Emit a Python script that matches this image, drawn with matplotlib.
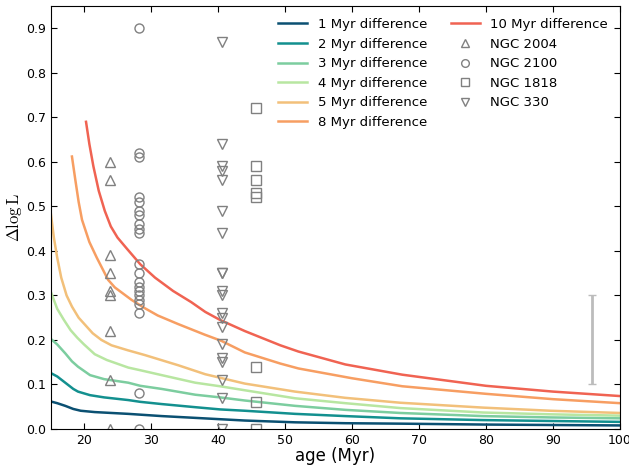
import matplotlib
matplotlib.use("Agg")
import matplotlib.pyplot as plt

# ---- curves: Delta log L vs age for different age differences ----
x_1 = [15, 16, 17.2, 18.4, 19.5, 21.6, 26.6, 31.6, 36.6, 40.3, 44, 51.5, 59, 67.2, 79.6, 89.6, 100]
y_1 = [0.062, 0.058, 0.052, 0.045, 0.041, 0.038, 0.034, 0.029, 0.025, 0.022, 0.019, 0.015, 0.013, 0.012, 0.010, 0.009, 0.008]

x_2 = [15, 16, 17.2, 18.4, 19.1, 20.9, 23, 26.6, 28.4, 31.6, 36.6, 40.3, 44, 51.5, 59, 67.2, 79.6, 89.6, 100]
y_2 = [0.126, 0.118, 0.104, 0.090, 0.084, 0.076, 0.071, 0.065, 0.061, 0.056, 0.049, 0.044, 0.041, 0.034, 0.029, 0.024, 0.020, 0.018, 0.016]

x_3 = [15, 16, 17.2, 18.2, 19.1, 20.9, 23, 26.6, 28.4, 31.6, 36.6, 40.3, 44, 51.5, 59, 67.2, 79.6, 89.6, 100]
y_3 = [0.203, 0.190, 0.170, 0.152, 0.140, 0.121, 0.112, 0.104, 0.097, 0.090, 0.077, 0.071, 0.064, 0.052, 0.043, 0.036, 0.029, 0.026, 0.024]

x_4 = [15, 16, 17, 18, 19, 20, 21.6, 23.4, 26.6, 28.4, 31.6, 36.6, 40.3, 44, 51.5, 59, 67.2, 79.6, 89.6, 100]
y_4 = [0.310, 0.270, 0.245, 0.222, 0.205, 0.190, 0.168, 0.155, 0.138, 0.132, 0.121, 0.104, 0.096, 0.087, 0.069, 0.058, 0.047, 0.037, 0.033, 0.030]

x_5 = [15, 15.5, 16, 16.6, 17.4, 18.2, 19.2, 20.1, 21.3, 22.6, 24.1, 26.5, 29.1, 34.1, 38.1, 44, 51.5, 59, 67.2, 79.6, 89.6, 100]
y_5 = [0.490, 0.430, 0.385, 0.340, 0.300, 0.275, 0.250, 0.235, 0.215, 0.200, 0.188, 0.177, 0.166, 0.143, 0.123, 0.102, 0.084, 0.070, 0.059, 0.048, 0.041, 0.036]

x_8 = [18.2, 18.7, 19.2, 19.7, 20.8, 21.9, 23.6, 24.6, 27.1, 29, 31, 34, 38, 40.5, 44, 49.3, 52, 60, 67.5, 80, 90, 100]
y_8 = [0.612, 0.560, 0.510, 0.470, 0.420, 0.385, 0.335, 0.318, 0.290, 0.272, 0.255, 0.236, 0.212, 0.198, 0.172, 0.147, 0.136, 0.114, 0.096, 0.079, 0.067, 0.058]

x_10 = [20.3, 20.8, 21.4, 22.2, 23.1, 24, 25, 26.4, 28.4, 30.6, 33.3, 36, 38.1, 40.3, 44, 49.3, 52, 59, 67.5, 80, 90, 100]
y_10 = [0.690, 0.640, 0.590, 0.535, 0.490, 0.455, 0.430, 0.405, 0.370, 0.340, 0.310, 0.285, 0.263, 0.245, 0.220, 0.188, 0.174, 0.145, 0.122, 0.097, 0.084, 0.074]

curve_labels = ["1 Myr difference", "2 Myr difference", "3 Myr difference", "4 Myr difference",
                "5 Myr difference", "8 Myr difference", "10 Myr difference"]
curve_colors = ["#0b5072", "#13908f", "#7ccd9f", "#b8e6a1", "#f2c07a", "#f79e62", "#f06352"]

# ---- cluster data ----
age_2004 = 23.9
dl_2004 = [0.60, 0.56, 0.39, 0.35, 0.31, 0.30, 0.22, 0.11, 0.0]
age_2100 = 28.2
dl_2100 = [0.90, 0.62, 0.61, 0.52, 0.51, 0.49, 0.48, 0.46, 0.45, 0.44, 0.37, 0.35, 0.33,
           0.32, 0.31, 0.30, 0.29, 0.28, 0.26, 0.08, 0.0]
age_1818 = 45.7
dl_1818 = [0.72, 0.59, 0.56, 0.53, 0.52, 0.14, 0.06, 0.0]
age_330 = 40.6
dl_330 = [0.87, 0.64, 0.59, 0.58, 0.56, 0.49, 0.44, 0.35, 0.35, 0.31, 0.30, 0.26, 0.25,
          0.23, 0.19, 0.16, 0.15, 0.11, 0.07, 0.0]

err_x = 95.8
err_y = 0.2
err_size = 0.1

fig = plt.figure(figsize=(6.29, 4.66), dpi=100)
ax = fig.add_axes([0.0803, 0.0794, 0.9054, 0.9076])

curves = [(x_1, y_1), (x_2, y_2), (x_3, y_3), (x_4, y_4), (x_5, y_5), (x_8, y_8), (x_10, y_10)]
for (xs, ys), lab, col in zip(curves, curve_labels, curve_colors):
    ax.plot(xs, ys, color=col, lw=1.8, label=lab)

mk = dict(ls="none", mfc="none", mec="#808080", mew=1.0, ms=6.5)
ax.plot([age_2004] * len(dl_2004), dl_2004, marker="^", label="NGC 2004", **mk)
ax.plot([age_2100] * len(dl_2100), dl_2100, marker="o", label="NGC 2100", **mk)
ax.plot([age_1818] * len(dl_1818), dl_1818, marker="s", label="NGC 1818", **mk)
ax.plot([age_330] * len(dl_330), dl_330, marker="v", label="NGC 330", **mk)

ax.errorbar([err_x], [err_y], yerr=[err_size], color="#bcbcbc", lw=2, capsize=3, capthick=1)

ax.set_xlim(15, 100)
ax.set_ylim(0, 0.95)
ax.set_xticks([20, 30, 40, 50, 60, 70, 80, 90, 100])
ax.set_yticks([0.0, 0.1, 0.2, 0.3, 0.4, 0.5, 0.6, 0.7, 0.8, 0.9])
ax.tick_params(direction="in", top=True, right=True, labelsize=9, length=4)
ax.set_xlabel("age (Myr)", fontsize=12, labelpad=0)
ax.set_ylabel(r"$\Delta\log\mathrm{L}$", fontsize=12, labelpad=1, math_fontfamily="cm")

leg = ax.legend(loc="upper right", ncol=2, frameon=False, fontsize=9.5, markerscale=0.85,
                handlelength=2.2, columnspacing=1.8, borderaxespad=0.5)

fig.savefig("out.png", dpi=100)
